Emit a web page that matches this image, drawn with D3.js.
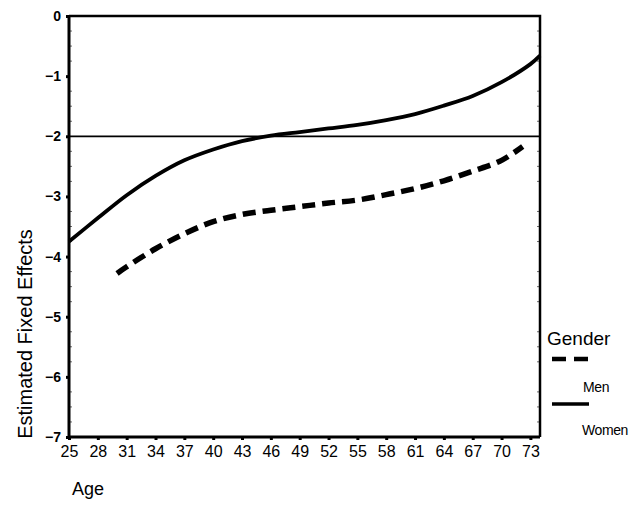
<!DOCTYPE html>
<html>
<head>
<meta charset="utf-8">
<script src="https://cdn.jsdelivr.net/npm/d3@7"></script>
<style>
  body { margin: 0; background: #fff; }
  svg { font-family: Arial, "Liberation Sans", sans-serif; }
</style>
</head>
<body>
<div id="chart"></div>
<script>
// values
const ages = [25, 28, 31, 34, 37, 40, 43, 46, 49, 52, 55, 58, 61, 64, 67, 70, 73, 74];
const women = [-3.75, -3.36, -2.98, -2.66, -2.40, -2.22, -2.08, -1.99, -1.93, -1.87, -1.81, -1.73, -1.63, -1.49, -1.33, -1.10, -0.80, -0.66];
const menAges = [30, 31, 34, 37, 40, 43, 46, 49, 52, 55, 58, 61, 64, 67, 70, 72.2];
const men = [-4.28, -4.17, -3.87, -3.62, -3.42, -3.30, -3.23, -3.17, -3.11, -3.06, -2.97, -2.87, -2.74, -2.58, -2.40, -2.17];
const xTicks = [25, 28, 31, 34, 37, 40, 43, 46, 49, 52, 55, 58, 61, 64, 67, 70, 73];
const yTicks = [0, -1, -2, -3, -4, -5, -6, -7];
const legendLabels = ["Men", "Women"];

const W = 633, H = 515;
const m = { top: 16, right: 93, bottom: 78, left: 69 };

const svg = d3.select("#chart").append("svg").attr("width", W).attr("height", H);

const x = d3.scaleLinear().domain([25, 74]).range([m.left, W - m.right]);
const y = d3.scaleLinear().domain([-7, 0]).range([H - m.bottom, m.top]);

// reference line at -2
svg.append("line").attr("x1", x(25)).attr("x2", x(74)).attr("y1", y(-2)).attr("y2", y(-2))
    .attr("stroke", "#000").attr("stroke-width", 1.8);

// minor ticks inside the frame
const minor = d3.range(-7, 0.01, 0.25).filter(v => Math.abs(v - Math.round(v)) > 0.01);
svg.append("g").selectAll("line").data(minor).enter().append("line")
    .attr("x1", x(25)).attr("x2", x(25) + 3).attr("y1", d => y(d)).attr("y2", d => y(d))
    .attr("stroke", "#444").attr("stroke-width", 0.8);
svg.append("g").selectAll("line").data(minor).enter().append("line")
    .attr("x1", x(74) - 3).attr("x2", x(74)).attr("y1", d => y(d)).attr("y2", d => y(d))
    .attr("stroke", "#444").attr("stroke-width", 0.8);

// axes
const xAxis = svg.append("g").attr("transform", `translate(0,${y(-7)})`)
    .call(d3.axisBottom(x).tickValues(xTicks).tickSize(3).tickPadding(6));
xAxis.select(".domain").remove();
xAxis.selectAll(".tick line").attr("stroke", "#000").attr("stroke-width", 3);
xAxis.selectAll(".tick text").attr("fill", "#000").style("font-size", "16px");

const yAxis = svg.append("g").attr("transform", `translate(${x(25)},0)`)
    .call(d3.axisLeft(y).tickValues(yTicks).tickFormat(d3.format("d")).tickSize(3).tickPadding(5));
yAxis.select(".domain").remove();
yAxis.selectAll(".tick line").attr("stroke", "#000").attr("stroke-width", 3);
yAxis.selectAll(".tick text").attr("fill", "#000").style("font-size", "14px").style("font-weight", "bold");

// plot frame
svg.append("path")
    .attr("d", `M${x(74)},${y(-7)}H${x(25)}V${y(0)}`)
    .attr("fill", "none").attr("stroke", "#000").attr("stroke-width", 3);
svg.append("path")
    .attr("d", `M${x(25)},${y(0)}H${x(74)}V${y(-7)}`)
    .attr("fill", "none").attr("stroke", "#000").attr("stroke-width", 2.5);

// curves
const line = d3.line().curve(d3.curveCatmullRom.alpha(0.5));
svg.append("path")
    .attr("d", line(ages.map((a, i) => [x(a), y(women[i])])))
    .attr("fill", "none").attr("stroke", "#000").attr("stroke-width", 3.8);
svg.append("path")
    .attr("d", line(menAges.map((a, i) => [x(a), y(men[i])])))
    .attr("fill", "none").attr("stroke", "#000").attr("stroke-width", 5.5)
    .attr("stroke-dasharray", "13,7");

// axis titles
svg.append("text").attr("transform", "translate(32,334) rotate(-90)")
    .attr("text-anchor", "middle").attr("fill", "#000").style("font-size", "20px")
    .text("Estimated Fixed Effects");
svg.append("text").attr("x", 72).attr("y", 495).attr("fill", "#000").style("font-size", "18px")
    .text("Age");

// legend
svg.append("text").attr("x", 547).attr("y", 345).attr("fill", "#000").style("font-size", "19px")
    .text("Gender");
svg.append("line").attr("x1", 552).attr("x2", 590).attr("y1", 359).attr("y2", 359)
    .attr("stroke", "#000").attr("stroke-width", 4.5).attr("stroke-dasharray", "14,8");
svg.append("line").attr("x1", 552).attr("x2", 589).attr("y1", 404).attr("y2", 404)
    .attr("stroke", "#000").attr("stroke-width", 3.5);
svg.append("text").attr("x", 583).attr("y", 392).attr("fill", "#000")
    .style("font-size", "14px").style("letter-spacing", "-0.4px").text(legendLabels[0]);
svg.append("text").attr("x", 582).attr("y", 435).attr("fill", "#000")
    .style("font-size", "14px").style("letter-spacing", "-0.4px").text(legendLabels[1]);
</script>
</body>
</html>
